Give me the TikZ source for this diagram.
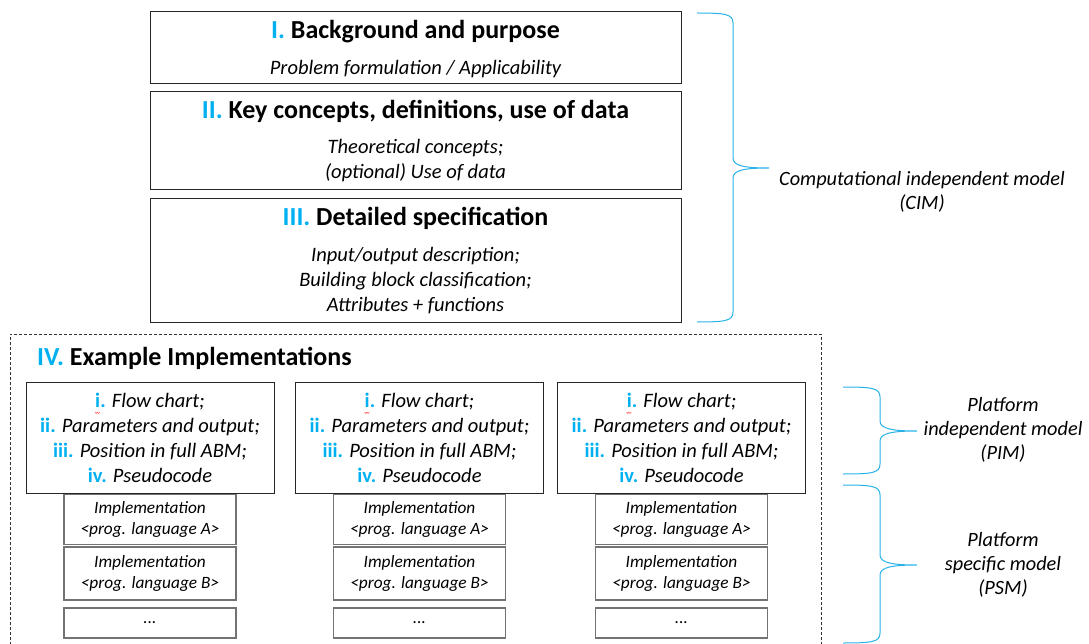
\documentclass[tikz,border=0pt]{standalone}
\usepackage{fontspec}
\setmainfont{Carlito}
\definecolor{accent}{RGB}{0,176,240}
\definecolor{bracecol}{RGB}{40,178,232}
\newcommand{\num}[1]{\textcolor{accent}{\upshape\bfseries #1}}
\newcommand{\sidebrace}[6]{% x0, x1, xtip, ytop, ymid, ybot
  \draw[bracebar] (#1,#4) .. controls (#2-8,#4) and (#2,#4+1) .. (#2,#4+10)
    -- (#2,#5-10) .. controls (#2,#5-2) and (#3-24,#5) .. (#3,#5)
    .. controls (#3-24,#5) and (#2,#5+2) .. (#2,#5+10)
    -- (#2,#6-10) .. controls (#2,#6-1) and (#2-8,#6) .. (#1,#6);}
\begin{document}
\begin{tikzpicture}[x=1pt,y=-1pt,
  topbox/.style={draw=black!85, line width=0.9pt, minimum width=531pt, inner sep=0pt},
  pimbox/.style={draw=black!85, line width=0.9pt, minimum width=248pt, minimum height=111pt,
    inner sep=0pt, align=center, font=\fontsize{20.5}{25}\selectfont\itshape},
  implbox/.style={draw=black!55, line width=1.1pt, minimum width=172pt, inner sep=0pt,
    align=center, font=\fontsize{17.3}{21}\selectfont\itshape},
  title/.style={anchor=mid, inner sep=0pt, font=\fontsize{26}{31}\selectfont\bfseries},
  subtext/.style={anchor=mid, inner sep=0pt, font=\fontsize{20.5}{25}\selectfont\itshape},
  sidelabel/.style={align=center, inner sep=0pt, font=\fontsize{20.3}{24}\selectfont\itshape},
  bracebar/.style={draw=bracecol, line width=1pt},
  squiggle/.style={draw=red!70, line width=0.5pt}]
\useasboundingbox (0,0) rectangle (1089,644);

% --- computational independent part ---
\node[topbox, minimum height=72pt] (bg) at (415.5,47) {};
\node[topbox, minimum height=98pt] (kc) at (415.5,140) {};
\node[topbox, minimum height=124pt] (ds) at (415.5,260) {};

\node[title] (bgt) at (415.5,36) {\num{I.} Background and purpose};
\node[subtext] (bgs) at (415.5,72) {Problem formulation / Applicability};

\node[title] (kct) at (415.5,116) {\num{II.} Key concepts, definitions, use of data};
\node[subtext] (kcs1) at (415.5,151) {Theoretical concepts;};
\node[subtext] (kcs2) at (415.5,176) {(optional) Use of data};

\node[title] (dst) at (415.5,223) {\num{III.} Detailed specification};
\node[subtext] (dss1) at (415.5,259) {Input/output description;};
\node[subtext] (dss2) at (415.5,284) {Building block classification;};
\node[subtext] (dss3) at (415.5,309) {Attributes + functions};

% --- example implementations frame (open at the bottom) ---
\draw[black!80, line width=0.8pt, dash pattern=on 3pt off 2pt] (10,650) -- (10,334) -- (821,334) -- (821,650);
\node[title, anchor=mid west] (ex) at (37,363) {\num{IV.} Example Implementations};

% --- three example columns ---
\foreach \c/\x in {a/150, b/419.5, c/681.5}{
  \node[pimbox] (pim\c) at (\x,438) {\num{i.} Flow chart;\\ \num{ii.} Parameters and output;\\
    \num{iii.} Position in full ABM;\\ \num{iv.} Pseudocode};
  \node[implbox, minimum height=50pt, anchor=north] (impA\c) at (pim\c.south) {Implementation\\ <prog. language A>};
  \node[implbox, minimum height=53pt] (impB\c) at (\x,573.5) {Implementation\\ <prog. language B>};
  \node[implbox, minimum height=30pt] (impC\c) at (\x,623) {...};
  \draw[squiggle] ([xshift=-55pt,yshift=26pt]pim\c.center) -- ++(1.2,1.5) -- ++(1.2,-1.5) -- ++(1.2,1.5) -- ++(1.2,-1.5);
}

% --- model level braces and labels ---
\sidebrace{697}{733}{769}{13}{168}{322}
\node[sidelabel] (cim) at (922,192) {Computational independent model\\ (CIM)};

\sidebrace{843}{880}{917}{387}{431}{474}
\node[sidelabel] (pim) at (1003,430) {Platform\\ independent model\\ (PIM)};

\sidebrace{843}{880}{917}{485}{565}{643}
\node[sidelabel] (psm) at (1003,565) {Platform\\ specific model\\ (PSM)};
\end{tikzpicture}
\end{document}
